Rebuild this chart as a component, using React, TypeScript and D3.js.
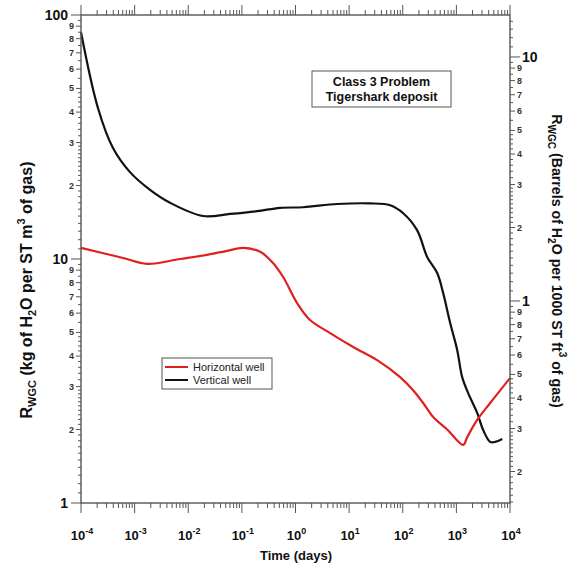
import React from "react";
import * as d3 from "d3";

// Water-to-gas ratio over time, Class 3 problem, Tigershark deposit
const horizontalTime = [1e-4, 6.08e-4, 1.7e-3, 7.03e-3, 0.0224, 0.053, 0.105, 0.219, 0.366, 0.588, 1.07, 1.87, 4.42, 11.9, 33.3, 89.3, 156, 240, 369, 673, 1340, 1589, 2443, 4275, 1e4];
const horizontalRwgc = [11.1, 10.1, 9.55, 10.0, 10.4, 10.8, 11.1, 10.7, 9.72, 8.44, 6.6, 5.62, 4.97, 4.36, 3.85, 3.28, 2.9, 2.57, 2.25, 2.0, 1.73, 1.86, 2.19, 2.57, 3.25];

const verticalTime = [1e-4, 2.07e-4, 3.95e-4, 8.2e-4, 1.94e-3, 4.57e-3, 0.0189, 0.0603, 0.192, 0.516, 1.39, 5.97, 24.7, 58.2, 102, 186, 285, 439, 567, 766, 1035, 1283, 1660, 2443, 3162, 4275, 5297, 7145];
const verticalRwgc = [85, 41.6, 28.5, 22.7, 19.2, 17.0, 15.0, 15.3, 15.7, 16.2, 16.3, 16.8, 16.9, 16.6, 15.4, 13.1, 10.2, 8.76, 7.26, 5.47, 4.24, 3.28, 2.82, 2.34, 1.99, 1.78, 1.78, 1.83];

const xExponents = [-4, -3, -2, -1, 0, 1, 2, 3, 4];
const seriesNames = ["Horizontal well", "Vertical well"];
const seriesColors = ["#e0201f", "#111111"];
const titleLines = ["Class 3 Problem", "Tigershark deposit"];

// kg/m^3 per bbl/1000 ft^3 as set on the secondary axis
const barrelFactor = 6.73;

const W = 575;
const H = 566;
const M = { left: 81, right: 510, top: 15, bottom: 503 };
const FONT = "Arial, 'Liberation Sans', Helvetica, sans-serif";
const AXIS = "#555";

const x = d3.scaleLog().domain([1e-4, 1e4]).range([M.left, M.right]);
const yLeft = d3.scaleLog().domain([1, 100]).range([M.bottom, M.top]);
const yRight = d3.scaleLog().domain([1 / barrelFactor, 100 / barrelFactor]).range([M.bottom, M.top]);

type Tick = { v: number; kind: "major" | "mid" | "small"; label?: string };

// log ticks: decades major, integer multiples mid, finer subdivisions small
function logTicks(lo: number, hi: number): Tick[] {
  const out: Tick[] = [];
  for (let k = Math.floor(Math.log10(lo)) - 1; k <= Math.ceil(Math.log10(hi)); k++) {
    const d = Math.pow(10, k);
    const add = (m: number) => {
      const v = m * d;
      if (v < lo * 0.9999 || v > hi * 1.0001) return;
      const r = Math.round(m * 10) / 10;
      if (Math.abs(r - 1) < 1e-6) out.push({ v, kind: "major" });
      else if (Math.abs(r - Math.round(r)) < 1e-6) out.push({ v, kind: "mid", label: String(Math.round(r)) });
      else out.push({ v, kind: "small" });
    };
    for (let m = 1; m < 3 - 1e-9; m += 0.1) add(m);
    for (let m = 3; m < 5 - 1e-9; m += 0.2) add(m);
    for (let m = 5; m < 10 - 1e-9; m += 0.5) add(m);
  }
  return out;
}

const leftTicks = logTicks(1, 100);
const rightTicks = logTicks(1 / barrelFactor, 100 / barrelFactor);
const xTicks: Tick[] = [];
xExponents.forEach((e, i) => {
  xTicks.push({ v: Math.pow(10, e), kind: "major" });
  if (i < xExponents.length - 1) for (let m = 2; m <= 9; m++) xTicks.push({ v: m * Math.pow(10, e), kind: "mid" });
});

const line = d3
  .line<[number, number]>()
  .x((d) => x(d[0]))
  .y((d) => yLeft(d[1]))
  .curve(d3.curveCatmullRom.alpha(0.5));

const horizontalPath = line(horizontalTime.map((t, i) => [t, horizontalRwgc[i]]))!;
const verticalPath = line(verticalTime.map((t, i) => [t, verticalRwgc[i]]))!;

const len = { major: 10, mid: 5, small: 3 };

export default function App() {
  return (
    <svg width={W} height={H} style={{ position: "absolute", left: 0, top: 0, background: "#fff" }} fontFamily={FONT}>
      <rect width={W} height={H} fill="#fff" />

      {/* curves */}
      <path d={verticalPath} fill="none" stroke={seriesColors[1]} strokeWidth={2.2} strokeLinejoin="round" />
      <path d={horizontalPath} fill="none" stroke={seriesColors[0]} strokeWidth={2.2} strokeLinejoin="round" />

      {/* frame */}
      <rect x={M.left} y={M.top} width={M.right - M.left} height={M.bottom - M.top} fill="none" stroke={AXIS} strokeWidth={1.4} />

      {/* left axis */}
      {leftTicks.map((t, i) => {
        const y = yLeft(t.v);
        return (
          <g key={"l" + i}>
            <line x1={M.left - len[t.kind]} x2={M.left} y1={y} y2={y} stroke={AXIS} strokeWidth={1} />
            {t.kind === "major" && (
              <text x={M.left - 13} y={y + 5} textAnchor="end" fontSize={14} fontWeight="bold" fill="#111">
                {d3.format("d")(t.v)}
              </text>
            )}
            {t.kind === "mid" && (
              <text x={M.left - 7} y={y + 3} textAnchor="end" fontSize={9} fontWeight="bold" fill="#333">
                {t.label}
              </text>
            )}
          </g>
        );
      })}

      {/* right axis */}
      {rightTicks.map((t, i) => {
        const y = yRight(t.v);
        return (
          <g key={"r" + i}>
            <line x1={M.right} x2={M.right + len[t.kind]} y1={y} y2={y} stroke={AXIS} strokeWidth={1} />
            {t.kind === "major" && (
              <text x={M.right + 12} y={y + 5} fontSize={14} fontWeight="bold" fill="#111">
                {d3.format("d")(t.v)}
              </text>
            )}
            {t.kind === "mid" && (
              <text x={M.right + 7} y={y + 3} fontSize={9} fontWeight="bold" fill="#333">
                {t.label}
              </text>
            )}
          </g>
        );
      })}

      {/* bottom and top axes */}
      {xTicks.map((t, i) => {
        const xx = x(t.v);
        const l = t.kind === "major" ? 10 : 5;
        return (
          <g key={"x" + i}>
            <line x1={xx} x2={xx} y1={M.bottom} y2={M.bottom + l} stroke={AXIS} strokeWidth={1} />
            <line x1={xx} x2={xx} y1={M.top} y2={M.top - l} stroke={AXIS} strokeWidth={1} />
          </g>
        );
      })}
      {xExponents.map((e) => (
        <text key={"xl" + e} x={x(Math.pow(10, e)) + 1} y={540} textAnchor="middle" fontSize={13} fontWeight="bold" fill="#111">
          10
          <tspan dy={-6} fontSize={9}>
            {e}
          </tspan>
        </text>
      ))}
      <text x={296} y={560} textAnchor="middle" fontSize={13} fontWeight="bold" fill="#111">
        Time (days)
      </text>

      {/* left axis title */}
      <text transform="translate(32,290) rotate(-90)" textAnchor="middle" fontSize={16} fontWeight="bold" fill="#111">
        R<tspan fontSize={11} dy={4}>WGC</tspan>
        <tspan dy={-4}> (kg of H</tspan>
        <tspan fontSize={11} dy={4}>2</tspan>
        <tspan dy={-4}>O per ST m</tspan>
        <tspan fontSize={11} dy={-7}>3</tspan>
        <tspan dy={7}> of gas)</tspan>
      </text>

      {/* right axis title */}
      <text transform="translate(552,261) rotate(90)" textAnchor="middle" fontSize={14.2} fontWeight="bold" fill="#111">
        R<tspan fontSize={10} dy={4}>WGC</tspan>
        <tspan dy={-4}> (Barrels of H</tspan>
        <tspan fontSize={10} dy={4}>2</tspan>
        <tspan dy={-4}>O per 1000 ST ft</tspan>
        <tspan fontSize={10} dy={-7}>3</tspan>
        <tspan dy={7}> of gas)</tspan>
      </text>

      {/* title box */}
      <rect x={312} y={71} width={139} height={36} fill="#fff" stroke={AXIS} strokeWidth={1} />
      {titleLines.map((s, i) => (
        <text key={s} x={381.5} y={86 + i * 15} textAnchor="middle" fontSize={12.5} fontWeight="bold" fill="#111">
          {s}
        </text>
      ))}

      {/* legend */}
      <rect x={162} y={358} width={110} height={31} fill="#fff" stroke={AXIS} strokeWidth={1} />
      {seriesNames.map((s, i) => (
        <g key={s}>
          <line x1={165} x2={188} y1={367 + i * 13} y2={367 + i * 13} stroke={seriesColors[i]} strokeWidth={2} />
          <text x={193} y={371 + i * 13} fontSize={11} fill="#222">
            {s}
          </text>
        </g>
      ))}
    </svg>
  );
}
